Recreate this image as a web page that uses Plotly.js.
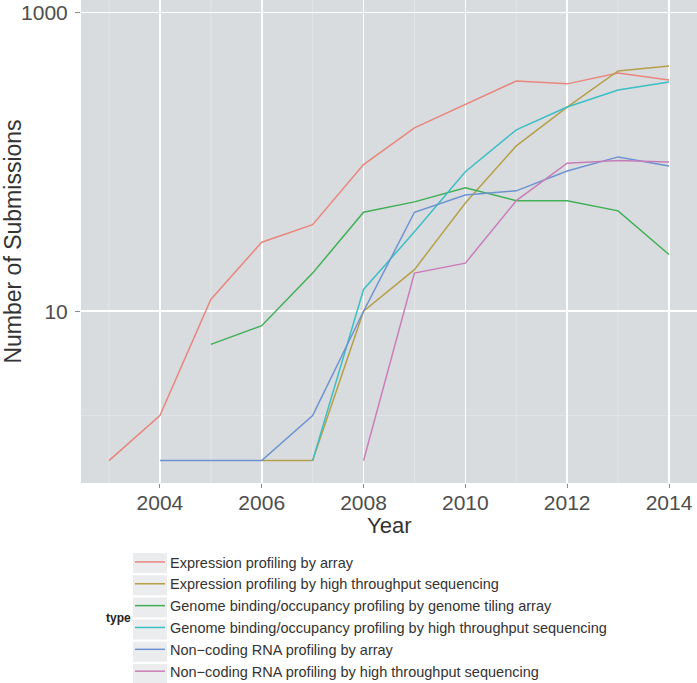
<!DOCTYPE html>
<html><head><meta charset="utf-8">
<script src="https://cdn.plot.ly/plotly-3.0.1.min.js"></script>
<style>body{margin:0;background:#fff}#chart{width:697px;height:683px}</style>
</head><body><div id="chart"></div>
<script>
// Data
const expArrayYears = [2003,2004,2005,2006,2007,2008,2009,2010,2011,2012,2013,2014];
const expArray      = [1,2,12,29,38,96,169,244,348,333,393,353];
const expSeqYears   = [2006,2007,2008,2009,2010,2011,2012,2013,2014];
const expSeq        = [1,1,10,19,53,128,233,406,438];
const gbTilingYears = [2005,2006,2007,2008,2009,2010,2011,2012,2013,2014];
const gbTiling      = [6,8,18,46,54,67,55,55,47,24];
const gbSeqYears    = [2007,2008,2009,2010,2011,2012,2013,2014];
const gbSeq         = [1,14,34,86,164,233,303,343];
const ncArrayYears  = [2004,2005,2006,2007,2008,2009,2010,2011,2012,2013,2014];
const ncArray       = [1,1,1,2,10,46,60,64,87,108,94];
const ncSeqYears    = [2008,2009,2010,2011,2012,2013,2014];
const ncSeq         = [1,18,21,55,98,102,100];
const seriesNames = [
  "Expression profiling by array",
  "Expression profiling by high throughput sequencing",
  "Genome binding/occupancy profiling by genome tiling array",
  "Genome binding/occupancy profiling by high throughput sequencing",
  "Non\u2212coding RNA profiling by array",
  "Non\u2212coding RNA profiling by high throughput sequencing"
];
const xTicks = [2004,2006,2008,2010,2012,2014];
const yTicks = [10,1000];

const colors = ["#E8867E","#B5A04A","#40AF56","#3BBEC4","#6C92D0","#C97DB8"];
const xs = [expArrayYears,expSeqYears,gbTilingYears,gbSeqYears,ncArrayYears,ncSeqYears];
const ys = [expArray,expSeq,gbTiling,gbSeq,ncArray,ncSeq];

const traces = seriesNames.map((n,i)=>({
  type:"scatter", mode:"lines", name:n, x:xs[i], y:ys[i],
  line:{color:colors[i], width:1.5}, showlegend:true
}));

const PH = 483; // plot height in px
const minorX = [2003,2005,2007,2009,2011,2013];
const minorY = [1,100];
const shapes = [];
minorX.forEach(v=>shapes.push({type:"line",xref:"x",yref:"paper",x0:v,x1:v,y0:0,y1:1,line:{color:"#E6E8EA",width:0.8},layer:"below"}));
minorY.forEach(v=>shapes.push({type:"line",xref:"paper",yref:"y",x0:0,x1:1,y0:Math.log10(v),y1:Math.log10(v),line:{color:"#E6E8EA",width:0.8},layer:"below"}));
// legend key backgrounds
for(let i=0;i<6;i++){
  const top = 553 + i*22.2;
  shapes.push({type:"rect",xref:"paper",yref:"paper",
    x0:(133-81)/616, x1:(167-81)/616,
    y0:(PH-(top+20))/PH, y1:(PH-top)/PH,
    fillcolor:"#EBECEE", line:{width:0}, layer:"below"});
}

const layout = {
  width:697, height:683,
  margin:{l:81,r:0,t:0,b:200,autoexpand:false},
  paper_bgcolor:"#FFFFFF", plot_bgcolor:"#D9DCDF",
  font:{family:"Liberation Sans, Arial, sans-serif", color:"#4D4D4D"},
  xaxis:{range:[2002.45,2014.55], tickvals:xTicks, ticktext:xTicks.map(String),
    showgrid:true, gridcolor:"#FFFFFF", gridwidth:1.6, zeroline:false,
    ticks:"outside", ticklen:4, tickcolor:"#8A8A8A", tickfont:{size:21,color:"#4D4D4D"},
    ticklabelstandoff:-3},
  yaxis:{type:"log", range:[-0.15,3.084], tickvals:yTicks, ticktext:yTicks.map(String),
    showgrid:true, gridcolor:"#FFFFFF", gridwidth:1.6, zeroline:false,
    ticks:"outside", ticklen:5, tickcolor:"#8A8A8A", tickfont:{size:21,color:"#4D4D4D"},
    ticklabelstandoff:3,
    title:{text:"Number of Submissions", font:{size:23,color:"#333"}, standoff:4}},
  legend:{x:(130-81)/616, xanchor:"left", y:(PH-546)/PH, yanchor:"top",
    font:{size:14.5,color:"#333"}, bgcolor:"rgba(0,0,0,0)", itemwidth:30,
    tracegroupgap:0},
  annotations:[
    {text:"<b>type</b>", xref:"paper", yref:"paper",
    x:(104-81)/616, y:(PH-618)/PH, xanchor:"left", yanchor:"middle",
    showarrow:false, font:{size:12,color:"#222"}},
    {text:"Year", xref:"paper", yref:"paper", x:0.5, y:(PH-525)/PH,
    xanchor:"center", yanchor:"middle", showarrow:false,
    font:{size:22,color:"#333"}}],
  shapes:shapes
};
Plotly.newPlot("chart", traces, layout, {displayModeBar:false, staticPlot:true});
</script></body></html>
